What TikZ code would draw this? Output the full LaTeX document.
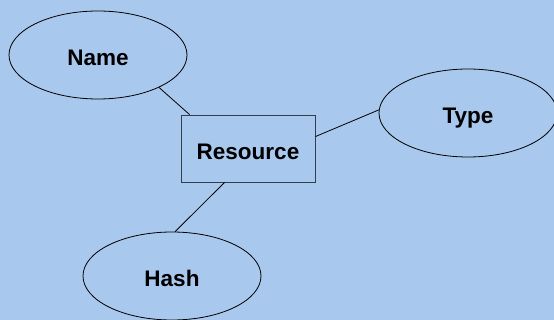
\documentclass[tikz,border=0pt]{standalone}
\usepackage{fontspec}
\setmainfont{Liberation Sans}
\usepackage{xcolor}
\usetikzlibrary{shapes.geometric, positioning}
\definecolor{bgblue}{RGB}{169,200,237}
\definecolor{boxedge}{RGB}{50,62,80}

\begin{document}
\begin{tikzpicture}[x=1pt, y=-1pt,
                    attr/.style={ellipse, draw, line width=0.8pt, inner sep=0pt,
                                 minimum width=178pt, minimum height=88pt,
                                 text height=22pt, text depth=0pt,
                                 font=\fontsize{22.5}{27}\selectfont\bfseries},
                    entity/.style={rectangle, draw=boxedge, line width=0.9pt, inner sep=0pt,
                                   minimum width=134pt, minimum height=67pt,
                                   text height=22pt, text depth=0pt,
                                   font=\fontsize{22.5}{27}\selectfont\bfseries}]
                            \fill[bgblue] (0, 0) rectangle (554, 320);
                            \useasboundingbox (0, 0) rectangle (554, 320);

                            \node[attr] (name) at (98, 55) {Name};
                            \node[attr] (type) at (468, 113) {Type};
                            \node[attr] (hash) at (172, 276) {Hash};
                            \node[entity] (res) at (248, 148.5) {Resource};

                            \draw[line width=0.8pt]
                            (name.-28) -- ([xshift=9pt]res.north west)
                            ([yshift=-22pt]res.north east) -- (type.178)
                            ([xshift=44pt]res.south west) -- (hash.86);
                        \end{tikzpicture}
\end{document}
